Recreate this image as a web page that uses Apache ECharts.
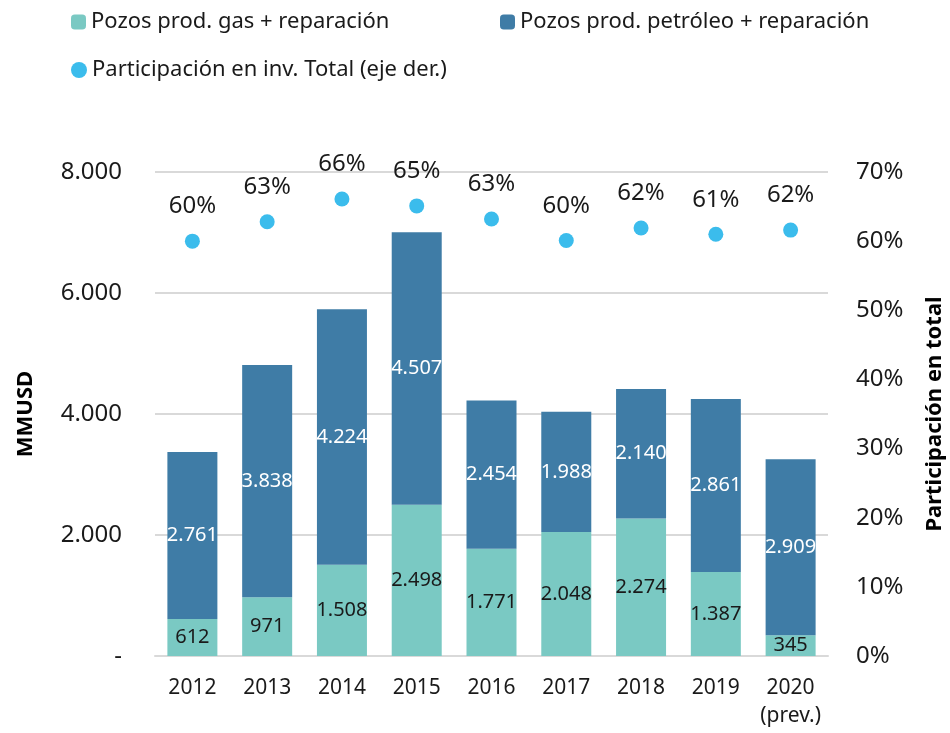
<!DOCTYPE html>
<html style="height: 100%">
   <head>
       <meta charset="utf-8">
       <script src="https://cdn.jsdelivr.net/npm/echarts@6/dist/echarts.min.js"></script>
   </head>
   <body style="height: 100%; margin: 0">
       <div id="container" style="width: 950px; height: 733px"></div>
       <script type="text/javascript">

// datos (MMUSD y % sobre inversion total)
var years = ['2012', '2013', '2014', '2015', '2016', '2017', '2018', '2019', '2020\n(prev.)'];
var gasWells = [612, 971, 1508, 2498, 1771, 2048, 2274, 1387, 345];
var oilWells = [2761, 3838, 4224, 4507, 2454, 1988, 2140, 2861, 2909];
var shareTotal = [60.0, 62.8, 66.1, 65.1, 63.2, 60.1, 61.9, 61.0, 61.6];

var FONT = "'Noto Sans', sans-serif";

function fmt(v) {
  if (v === 0) return '-';
  return String(v).replace(/\B(?=(\d{3})+(?!\d))/g, '.');
}

var dom = document.getElementById("container");
var myChart = echarts.init(dom);

var legendText = { fontFamily: FONT, fontSize: 22, color: '#1a1a1a' };

var option = {
  animation: false,
  backgroundColor: '#ffffff',
  textStyle: { fontFamily: FONT },
  legend: [{
    data: ['Pozos prod. gas + reparación'],
    left: 66, top: 6,
    itemWidth: 15, itemHeight: 15, itemGap: 8,
    textStyle: legendText
  }, {
    data: ['Pozos prod. petróleo + reparación'],
    left: 495, top: 6,
    itemWidth: 15, itemHeight: 15,
    textStyle: legendText
  }, {
    data: [{ name: 'Participación en inv. Total (eje der.)', icon: 'circle' }],
    left: 66, top: 54,
    itemWidth: 16, itemHeight: 16,
    textStyle: legendText
  }],
  grid: { left: 155, right: 122, top: 172, bottom: 77, containLabel: false, outerBoundsMode: 'none' },
  xAxis: {
    type: 'category',
    data: years,
    axisTick: { show: false },
    axisLine: { lineStyle: { color: '#d9d9d9', width: 2 } },
    axisLabel: { interval: 0, color: '#1a1a1a', fontSize: 21, margin: 18, lineHeight: 28, fontFamily: FONT }
  },
  yAxis: [{
    type: 'value',
    min: 0, max: 8000, interval: 2000,
    name: 'MMUSD',
    nameLocation: 'middle',
    nameGap: 118,
    nameTextStyle: { fontSize: 22, fontWeight: 'bold', color: '#000', fontFamily: FONT },
    axisLine: { show: false },
    axisTick: { show: false },
    splitLine: { lineStyle: { color: '#d9d9d9', width: 2 } },
    axisLabel: { formatter: fmt, color: '#1a1a1a', fontSize: 24, margin: 33, fontFamily: FONT }
  }, {
    type: 'value',
    min: 0, max: 70, interval: 10,
    name: 'Participación en total',
    nameLocation: 'middle',
    nameGap: 96,
    nameTextStyle: { fontSize: 22, fontWeight: 'bold', color: '#000', fontFamily: FONT },
    axisLine: { show: false },
    axisTick: { show: false },
    splitLine: { show: false },
    axisLabel: { formatter: '{value}%', color: '#1a1a1a', fontSize: 24, margin: 28, fontFamily: FONT }
  }],
  series: [{
    name: 'Pozos prod. gas + reparación',
    type: 'bar',
    stack: 'pozos',
    barWidth: 50,
    data: gasWells,
    itemStyle: { color: '#7ac9c3' },
    label: {
      show: true, position: 'inside',
      color: '#1a1a1a', fontSize: 20, fontFamily: FONT,
      formatter: function (p) { return fmt(p.value); }
    }
  }, {
    name: 'Pozos prod. petróleo + reparación',
    type: 'bar',
    stack: 'pozos',
    barWidth: 50,
    data: oilWells,
    itemStyle: { color: '#3f7ca6' },
    label: {
      show: true, position: 'inside',
      color: '#ffffff', fontSize: 20, fontFamily: FONT,
      formatter: function (p) { return fmt(p.value); }
    }
  }, {
    name: 'Participación en inv. Total (eje der.)',
    type: 'scatter',
    yAxisIndex: 1,
    symbol: 'circle',
    symbolSize: 15,
    data: shareTotal,
    itemStyle: { color: '#3bbcec', opacity: 1 },
    label: {
      show: true, position: 'top', distance: 15,
      color: '#1a1a1a', fontSize: 24, fontFamily: FONT,
      formatter: function (p) { return Math.round(p.value) + '%'; }
    }
  }]
};

myChart.setOption(option);

       </script>
   </body>
</html>
